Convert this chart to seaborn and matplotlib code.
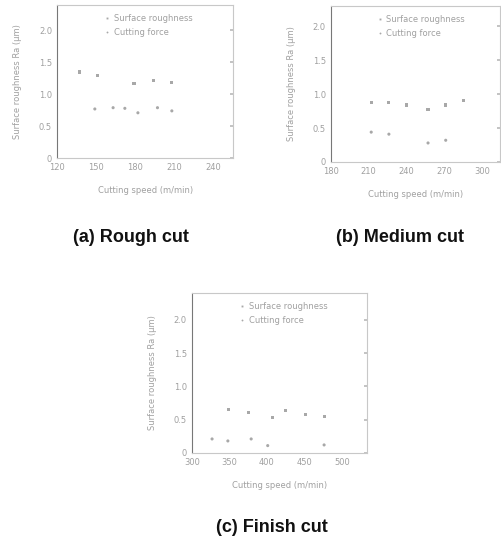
import matplotlib
matplotlib.use("Agg")
import matplotlib.pyplot as plt
import seaborn as sns
import pandas as pd

# panel (a) rough cut
rough_speed_hi = [137, 151, 179, 194, 208]
rough_ra_hi = [1.35, 1.29, 1.17, 1.21, 1.18]
rough_speed_lo = [149, 163, 172, 182, 197, 208]
rough_ra_lo = [0.77, 0.79, 0.78, 0.71, 0.79, 0.74]

# panel (b) medium cut
med_speed_hi = [212, 226, 240, 257, 271, 285]
med_ra_hi = [0.88, 0.88, 0.84, 0.78, 0.84, 0.90]
med_speed_lo = [212, 226, 257, 271]
med_ra_lo = [0.44, 0.41, 0.28, 0.32]

# panel (c) finish cut
fin_speed_hi = [349, 375, 407, 425, 451, 476]
fin_ra_hi = [0.65, 0.61, 0.53, 0.64, 0.58, 0.55]
fin_speed_lo = [327, 348, 379, 401, 476]
fin_ra_lo = [0.21, 0.18, 0.21, 0.11, 0.12]

series_names = ["Surface roughness", "Cutting force"]
captions = ["(a) Rough cut", "(b) Medium cut", "(c) Finish cut"]
xticks_a = [120, 150, 180, 210, 240]
xticks_b = [180, 210, 240, 270, 300]
xticks_c = [300, 350, 400, 450, 500]
yticks = [0, 0.5, 1.0, 1.5, 2.0]

sns.set_theme(style="white")
plt.rcParams["font.family"] = ["DejaVu Sans"]

faded = "#a0a0a0"

def make_df(sx_hi, sy_hi, sx_lo, sy_lo):
    return pd.DataFrame({
        "speed": sx_hi + sx_lo,
        "ra": sy_hi + sy_lo,
        "series": [series_names[0]] * len(sx_hi) + [series_names[1]] * len(sx_lo),
    })

fig = plt.figure(figsize=(5.02, 5.49), dpi=100)

# rect, data, xticks, xlim, ytop, caption (x, y) in figure pixels
panels = [
    ([0.1135, 0.712, 0.351, 0.279], make_df(rough_speed_hi, rough_ra_hi, rough_speed_lo, rough_ra_lo),
     xticks_a, (120, 255), 2.4, (131, 237)),
    ([0.659, 0.705, 0.337, 0.284], make_df(med_speed_hi, med_ra_hi, med_speed_lo, med_ra_lo),
     xticks_b, (180, 314), 2.3, (400, 237)),
    ([0.382, 0.175, 0.349, 0.291], make_df(fin_speed_hi, fin_ra_hi, fin_speed_lo, fin_ra_lo),
     xticks_c, (300, 533), 2.4, (272, 528)),
]

for i, (rect, df, xt, xl, ytop, cap) in enumerate(panels):
    ax = fig.add_axes(rect)
    sns.scatterplot(data=df, x="speed", y="ra", hue="series", style="series",
                    palette=["#a8a8a8", "#a8a8a8"], markers=["s", "o"], s=5,
                    linewidth=0, ax=ax)
    ax.set_xlim(*xl)
    ax.set_ylim(0, ytop)
    ax.set_xticks(xt)
    ax.set_xticklabels([str(v) for v in xt], fontsize=6, color=faded)
    ax.set_yticks(yticks)
    ax.set_yticklabels(["0" if v == 0 else f"{v:.1f}" for v in yticks], fontsize=6, color=faded)
    ax.tick_params(direction="in", length=2, color="#bbbbbb", right=True, top=False)
    ax.set_xlabel("Cutting speed (m/min)", fontsize=6, color=faded, labelpad=10)
    ax.set_ylabel("Surface roughness Ra (\u03bcm)", fontsize=6, color=faded, labelpad=12)
    for side, sp in ax.spines.items():
        sp.set_color("#c8c8c8")
        sp.set_linewidth(0.8)
    ax.spines["left"].set_color("#777777")
    leg = ax.legend(loc="upper left", bbox_to_anchor=(0.22, 0.99), frameon=False,
                    fontsize=6, markerscale=0.6, handletextpad=0.3, labelspacing=0.6,
                    handlelength=1.0)
    for t in leg.get_texts():
        t.set_color(faded)
    fig.text(cap[0] / 502, 1 - cap[1] / 549, captions[i], ha="center", va="center",
             fontsize=13, fontweight="bold", color="#111111",
             family=["Liberation Sans", "DejaVu Sans"])

fig.savefig("out.png", dpi=100)
